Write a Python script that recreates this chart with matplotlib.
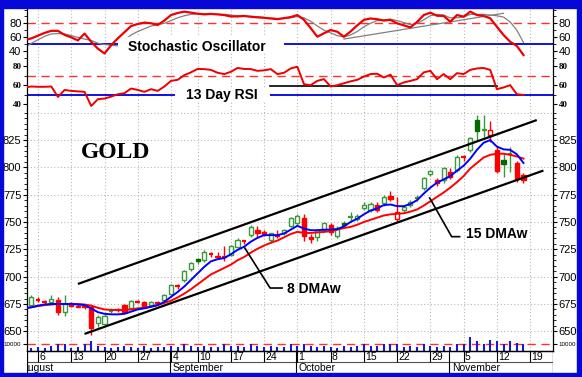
import matplotlib
matplotlib.use("Agg")
import matplotlib.pyplot as plt
from matplotlib.patches import Rectangle
from matplotlib.ticker import MultipleLocator
import pandas as pd

plt.rcParams['font.family'] = ['Liberation Sans', 'DejaVu Sans']

# ---------------- calendar (trading days) ----------------
days = [d for d in pd.bdate_range('2007-08-01', '2007-11-23')
        if d.strftime('%Y-%m-%d') not in ('2007-09-03', '2007-11-22')]
pos = {d.strftime('%Y-%m-%d'): k for k, d in enumerate(days)}

tick_dates = ['2007-08-06', '2007-08-13', '2007-08-20', '2007-08-27', '2007-09-04',
              '2007-09-10', '2007-09-17', '2007-09-24', '2007-10-01', '2007-10-08',
              '2007-10-15', '2007-10-22', '2007-10-29', '2007-11-05', '2007-11-12',
              '2007-11-19']
tick_labels = ['6', '13', '20', '27', '4', '10', '17', '24', '1', '8', '15', '22', '29',
               '5', '12', '19']
months = ['August', 'September', 'October', 'November']
month_starts = ['2007-08-01', '2007-09-04', '2007-10-01', '2007-11-01']

# ---------------- candles: 2007-08-03 .. 2007-11-16 ----------------
candle_start = '2007-08-03'
open_ = [674, 679, 677.5, 677, 679, 668, 676, 673.5, 673, 672, 658, 657, 668.5, 669.5, 674,
         671, 677.5, 677, 674, 676.5, 679, 684, 691.5, 697, 707, 716, 715, 721, 719, 718,
         720, 727, 732.5, 738, 743, 741, 733.5, 737.5, 740, 746.4, 749, 753.7, 736.6, 736,
         742.5, 747, 737, 749, 754.5, 752.7, 762.8, 761, 766, 767, 773.8, 753, 761, 765.6,
         771.5, 781, 794, 788.4, 788.4, 796, 797.6, 809.5, 815.8, 843, 834, 830, 816, 807,
         812.5, 804, 793]
high = [683, 681, 679, 683, 681, 683, 677, 675, 675, 674, 665, 666, 671, 671, 675,
        679, 679, 678, 678, 678, 684, 693, 693, 706, 713, 717, 724, 723, 723, 728,
        729, 735, 734, 747, 746, 743, 740, 743, 744, 755, 757, 757, 739, 744,
        750, 749, 746, 751, 759, 757, 768, 768, 768, 775, 778, 773, 766, 770,
        775, 791, 798, 790, 800, 799, 811, 811, 828, 848, 848, 842, 820, 812,
        819, 806, 795]
low = [672, 677, 675, 676, 665, 664, 672, 672, 670, 647, 654, 655, 667, 668, 667,
       670, 676, 671, 673, 675, 678, 683, 689, 695, 705, 712, 713, 718, 716, 714,
       719, 726, 730, 736, 735, 737, 731, 735, 738, 745, 747, 733, 731, 733,
       741, 738, 735, 745, 750, 751, 761, 759, 759, 765, 769, 750, 759, 764,
       769, 779, 792, 783, 786, 789, 796, 806, 814, 824, 828, 823, 795, 791,
       796, 787, 786]
close = [681, 678.5, 677, 680, 668, 675, 673, 672.5, 672, 653, 663, 664, 669, 668.8, 668,
         678, 677, 672.5, 677, 676, 683, 692, 691, 705, 712.5, 714, 723, 720.5, 718, 717.5,
         728, 733.5, 732, 745.7, 740, 739, 740, 737, 742.7, 753.7, 755.5, 737, 734.5, 743,
         749, 741, 744.5, 747, 755, 755.5, 765.6, 766.5, 761, 773, 770.8, 759, 764, 768.6,
         772, 790, 796.7, 785.5, 799, 791.5, 809.8, 808.8, 826.5, 833, 835.5, 834, 797, 803,
         812, 789, 788.4]
prev_close_before_start = 676
volume = [4300, 5700, 4300, 7100, 8600, 10000, 4300, 5700, 10000, 12900,
          7100, 5700, 4300, 5700, 7100, 5700, 4300, 7100, 4300, 5700,
          5700, 7100, 5700, 8600, 7100, 5700, 7100, 5700, 5700, 8600,
          7100, 7100, 5700, 8600, 7100, 5700, 7100, 5700, 5700, 8600,
          7100, 10000, 7100, 5700, 7100, 5700, 4300, 7100, 5700, 7100,
          8600, 7100, 7100, 8600, 10000, 8600, 5700, 7100, 5700, 8600,
          7100, 5700, 7100, 5700, 8600, 10000, 18600, 14300, 10000, 15700,
          14300, 8600, 14300, 11400, 10000]

# ---------------- indicators: 2007-08-02 .. 2007-11-16 ----------------
ind_start = '2007-08-02'
dma8 = [671, 672, 673.5, 674.5, 675, 675, 675, 675, 674.5, 674,
        671, 667.5, 666, 665.5, 665.5, 666, 668, 670, 671, 672.5,
        674, 677, 681.5, 686, 691, 697, 703, 709, 714, 716,
        717, 720.5, 724.5, 727.4, 732, 735.5, 738, 738, 738, 739.5,
        743, 746.5, 744, 742.5, 742.5, 743, 743, 743.5, 746, 750,
        753, 757, 760.5, 762.5, 765.5, 766, 764.5, 764.5, 766.5, 770,
        776, 781.5, 786, 789, 792, 797, 801.5, 808, 816, 822.5,
        825, 819, 816.5, 816, 812, 804]
dma15 = [671, 672, 673, 674, 674.5, 675, 675, 675, 675, 674.5,
         673.5, 671.5, 670, 669.5, 669.5, 669.5, 670, 671, 671.5, 672.5,
         674, 676, 678, 681, 684.5, 688.5, 693, 697.5, 702, 705,
         708, 711, 715, 718, 722, 725.5, 728.5, 731, 733, 736,
         739, 741, 740, 740, 740.5, 741, 741.5, 743, 744.5, 745.5,
         747.5, 750, 752, 754, 756, 757, 757.5, 758, 759.5, 761.5,
         765, 769, 773, 777, 781.5, 786.5, 792, 799, 804, 809,
         811.5, 812.5, 812.5, 811.5, 810, 808]
stoch_k = [55.6, 58, 62, 66, 69, 69, 63, 59.5, 55, 65,
           53, 43, 36, 48, 58, 67, 76, 79, 81, 80,
           77.5, 84, 92, 95, 97, 95.5, 94, 93, 93.6, 93,
           92, 90, 90, 90.7, 89.5, 88.7, 88, 87, 86, 87.5,
           89, 92, 85, 73, 60.4, 65.4, 70.2, 67.7, 60.4, 68,
           77, 85, 87, 86, 84, 85, 80, 77, 74, 82,
           92, 95.5, 91, 90.7, 82.3, 92, 89.7, 97, 92, 90.7,
           87.3, 75, 63, 53, 47, 33.7]
stoch_d = [45, 50.8, 56, 61, 64.4, 65, 64.5, 62, 59.5, 57,
           55, 51, 49, 48, 47, 55, 63, 68, 72, 76,
           78, 80, 84, 88, 91, 93, 94, 94, 93.5, 93,
           93, 92, 91, 90.5, 90, 89.5, 88.5, 87.5, 87, 87,
           88, 90, 88, 83, 76, 70, 66, 62, 60, 63,
           68, 75, 80, 84, 85, 86, 84, 81, 78, 80,
           85, 91, 93, 92, 88, 88, 89, 93, 93, 93,
           92, 91, 89, 82, 70, 52]
rsi13 = [57.6, 58.6, 58.3, 58.3, 58.6, 47.7, 55, 54, 53.5, 53,
         38.2, 45.3, 46, 48, 50.5, 51.6, 56.5, 55, 53, 55.8,
         54, 58.6, 64.5, 65.6, 70.5, 73.4, 77, 76.8, 76, 73,
         71.6, 74, 78, 77, 76.8, 75, 75.5, 76.8, 71.6, 73,
         77.5, 79.3, 61, 60, 64.5, 66.3, 58.6, 60, 62, 64,
         65.6, 69, 71.6, 72, 68, 71, 60, 62.8, 64.5, 66.3,
         73.4, 75, 66.3, 71.6, 66.3, 72.6, 71.6, 76, 77.5, 78,
         76, 55.8, 57.6, 60, 50.5, 49.8]

# channel lines and the stochastic trendline (date, value)
upper_channel = [('2007-08-14', 693.3), ('2007-11-20', 843.3)]
lower_channel = [('2007-08-15', 647.6), ('2007-11-21', 797.1)]
stoch_trend = [('2007-10-10', 57.0), ('2007-11-13', 94.6)]

# ---------------- layout ----------------
W, H = 582, 377
fig = plt.figure(figsize=(W / 100, H / 100), dpi=100)
fig.patch.set_facecolor('white')
BLUE = '#0707d8'
for (x0, y0, w, h) in [(0, 0, 582, 8), (0, 0, 3, 377), (577, 0, 5, 377), (0, 373, 582, 4)]:
    fig.add_artist(Rectangle((x0 / W, 1 - (y0 + h) / H), w / W, h / H,
                             transform=fig.transFigure, color=BLUE, zorder=10))

L, R = 27, 553


def ax_at(top, bottom):
    return fig.add_axes([L / W, 1 - bottom / H, (R - L) / W, (bottom - top) / H])


XMIN, XMAX = 1.346, 80.44
ax_st = ax_at(8, 61)
ax_rsi = ax_at(61, 110)
ax_p = ax_at(110, 336)
ax_v = ax_at(336, 351)
ax_d = ax_at(351, 373)

ticks_x = [pos[d] for d in tick_dates]
GRID = dict(color='#b8b8b8', linestyle=(0, (1, 2)), linewidth=0.8, zorder=0)

for ax in (ax_st, ax_rsi, ax_p, ax_v):
    ax.set_xlim(XMIN, XMAX)
    ax.set_facecolor('white')
    for s in ('top', 'bottom'):
        ax.spines[s].set_visible(False)
    for s in ('left', 'right'):
        ax.spines[s].set_linewidth(0.9)
    ax.set_xticks([])
    for tx in ticks_x:
        ax.axvline(tx, **GRID)
    ax.tick_params(axis='y', which='both', left=True, right=True, labelleft=True,
                   labelright=True, direction='out', pad=1, labelsize=8, colors='black')
    ax.tick_params(axis='y', which='major', length=3, width=0.8)
    ax.tick_params(axis='y', which='minor', length=2, width=0.6)

ind_x = [pos[ind_start] + k for k in range(len(dma8))]
c_x = [pos[candle_start] + k for k in range(len(close))]

# ---------------- stochastic panel ----------------
ax_st.set_ylim(25, 102.3)
ax_st.set_yticks([40, 60, 80])
ax_st.yaxis.set_minor_locator(MultipleLocator(10))
ax_st.axhline(80, color='#ff3030', linestyle=(0, (6, 4)), linewidth=1.0, zorder=1)
ax_st.axhline(50, color='#1010e0', linewidth=1.4, zorder=1.5)
ax_st.plot(ind_x, stoch_d, color='#808080', linewidth=0.9, zorder=2)
ax_st.plot([pos[d] for d, _ in stoch_trend], [v for _, v in stoch_trend],
           color='#808080', linewidth=0.9, zorder=2)
ax_st.add_patch(Rectangle((15.0, 37), 25.0, 23, facecolor='white', edgecolor='none', zorder=3))
ax_st.plot(ind_x, stoch_k, color='#ee0000', linewidth=1.6, zorder=4)
ax_st.text(16.5, 40, 'Stochastic Oscillator', fontsize=10, fontweight='bold',
           ha='left', va='baseline', zorder=5)

# ---------------- RSI panel ----------------
ax_rsi.set_ylim(34, 85.3)
ax_rsi.set_yticks([40, 60, 80])
ax_rsi.yaxis.set_minor_locator(MultipleLocator(10))
for lab in ax_rsi.get_yticklabels():
    lab.set_fontfamily('Liberation Serif')
    lab.set_fontweight('bold')
    lab.set_fontsize(6.5)
ax_rsi.axhline(70, color='#ff3030', linestyle=(0, (6, 4)), linewidth=1.0, zorder=1)
ax_rsi.axhline(50, color='#1010e0', linewidth=1.4, zorder=1.5)
ax_rsi.plot([37.9, 72.0], [59.3, 59.3], color='black', linewidth=1.2, zorder=2)
ax_rsi.add_patch(Rectangle((23.6, 42), 14.3, 14, facecolor='white', edgecolor='none', zorder=3))
ax_rsi.plot(ind_x, rsi13, color='#ee0000', linewidth=1.4, zorder=4)
ax_rsi.text(25.3, 45.3, '13 Day RSI', fontsize=10, fontweight='bold',
            ha='left', va='baseline', zorder=5)

# ---------------- price panel ----------------
ax_p.set_ylim(645.7, 852.5)
ax_p.set_yticks([650, 675, 700, 725, 750, 775, 800, 825])
ax_p.yaxis.set_minor_locator(MultipleLocator(5))
for lv in [650, 675, 700, 725, 750, 775, 800, 825, 850]:
    ax_p.axhline(lv, **GRID)

GREEN, DKGREEN, RED = '#3a9a3a', '#006a00', '#ff0000'
prev = [prev_close_before_start] + close[:-1]
for x, o, h, l, c, pc in zip(c_x, open_, high, low, close, prev):
    up = c >= pc
    col = GREEN if up else RED
    filled = c < o
    ax_p.vlines(x, l, h, color=col, linewidth=1.0, zorder=2)
    if abs(c - o) < 1.0:
        ax_p.hlines((o + c) / 2, x - 0.35, x + 0.35, color=col, linewidth=1.6, zorder=3)
    else:
        if filled:
            fc = DKGREEN if up else RED
            ec = fc
        else:
            fc, ec = 'white', col
        ax_p.bar(x, abs(c - o), bottom=min(o, c), width=0.62, facecolor=fc,
                 edgecolor=ec, linewidth=1.0, zorder=3)

ax_p.plot(ind_x, dma15, color='#ff0000', linewidth=1.4, zorder=4)
ax_p.plot(ind_x, dma8, color='#0000ff', linewidth=1.4, zorder=4)
for ch in (upper_channel, lower_channel):
    ax_p.plot([pos[d] for d, _ in ch], [v for _, v in ch], color='black',
              linewidth=1.6, zorder=5, solid_capstyle='butt')

ax_p.text(14.7, 814, 'GOLD', fontfamily='Liberation Serif', fontweight='bold',
          fontsize=17, ha='center', va='center', zorder=6)
ax_p.plot([34.1, 37.9, 39.7], [726.2, 689.6, 689.6], color='black', linewidth=1.2, zorder=5)
ax_p.text(40.4, 685.0, '8 DMAw', fontsize=10, fontweight='bold', ha='left',
          va='baseline', zorder=6)
ax_p.plot([61.9, 65.2, 66.4], [772.0, 736.6, 736.6], color='black', linewidth=1.2, zorder=5)
ax_p.text(67.4, 735.4, '15 DMAw', fontsize=10, fontweight='bold', ha='left',
          va='baseline', zorder=6)

# ---------------- volume panel ----------------
ax_v.set_ylim(0, 21430)
ax_v.set_yticks([10000])
ax_v.yaxis.set_major_formatter(plt.FixedFormatter(['10000']))
ax_v.tick_params(axis='y', labelsize=4.5)
ax_v.spines['bottom'].set_visible(True)
ax_v.spines['bottom'].set_linewidth(0.9)
ax_v.axhline(10000, color='#ff3030', linestyle=(0, (6, 4)), linewidth=1.0, zorder=1)
ax_v.vlines(c_x, 700, [v + 700 for v in volume], color='#1818d0', linewidth=1.5, zorder=2)

# ---------------- date axis ----------------
ax_d.set_xlim(XMIN, XMAX)
ax_d.set_ylim(22, 0)
ax_d.axis('off')
ax_d.plot([XMIN, XMAX], [0, 0], color='black', linewidth=0.9, clip_on=False)
ax_d.plot([XMIN, XMAX], [11, 11], color='#505050', linewidth=0.8)
ax_d.vlines([XMIN + 0.02, XMAX - 0.02], 0, 22, color='black', linewidth=0.9)
ax_d.vlines(ticks_x, 0, 11, color='black', linewidth=0.8)
for tx, tl in zip(ticks_x, tick_labels):
    ax_d.text(tx + 0.2, 6, tl, fontsize=7.5, ha='left', va='center', clip_on=True)
for k, (ms, mn) in enumerate(zip(month_starts, months)):
    mx = pos[ms] - 0.15
    if k > 0:
        ax_d.vlines(mx, 0, 22, color='black', linewidth=0.8)
    off = 0.75 if k == 0 else 0.35
    ax_d.text(mx + off, 17, mn, fontsize=7.5, ha='left', va='center', clip_on=True)

fig.savefig('out.png', dpi=100, facecolor=fig.get_facecolor())
